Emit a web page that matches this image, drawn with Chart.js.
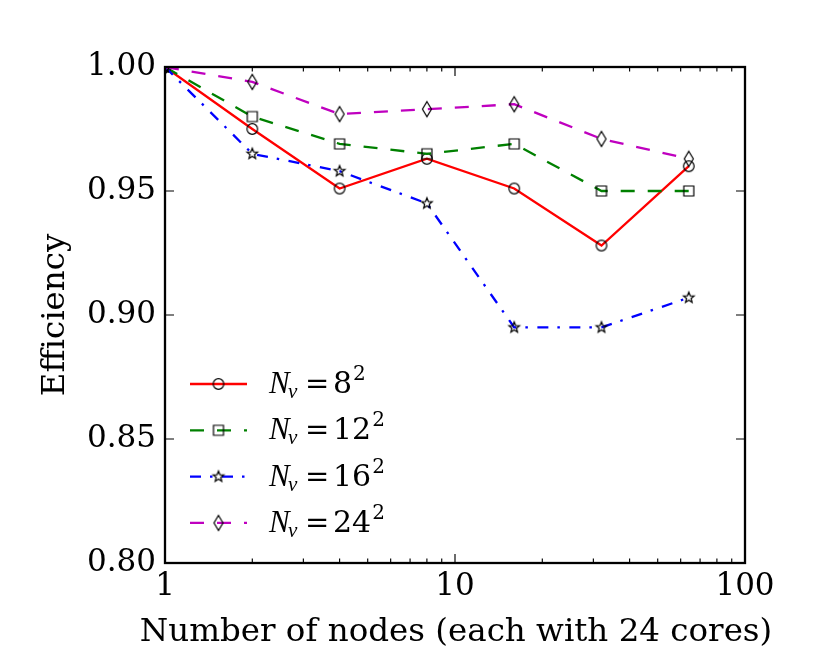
<!DOCTYPE html>
<html>
<head>
<meta charset="utf-8">
<script src="https://cdn.jsdelivr.net/npm/chart.js@4.4.1/dist/chart.umd.min.js"></script>
<style>
    html, body { margin: 0; padding: 0; background: #fff; }
    #wrap { width: 830px; height: 664px; position: relative; }
</style>
</head>
<body>
<div id="wrap"><canvas id="effChart"></canvas></div>
<script>
const nodes = [1, 2, 4, 8, 16, 32, 64];
const effNv8 = [1.000, 0.975, 0.951, 0.963, 0.951, 0.928, 0.960];
const effNv12 = [1.000, 0.980, 0.969, 0.965, 0.969, 0.950, 0.950];
const effNv16 = [1.000, 0.965, 0.958, 0.945, 0.895, 0.895, 0.907];
const effNv24 = [1.000, 0.994, 0.981, 0.983, 0.985, 0.971, 0.963];
const seriesNv = ['8', '12', '16', '24'];
const xMajorTicks = [1, 10, 100];
const xMinorTicks = [2, 3, 4, 5, 6, 7, 8, 9, 20, 30, 40, 50, 60, 70, 80, 90];
const yTicks = [0.80, 0.85, 0.90, 0.95, 1.00];
const xTitle = 'Number of nodes (each with 24 cores)';

const TICK_FONT = 31;
const TITLE_FONT = 32.5;
const X_TITLE_WIDTH = 627;

// hollow black markers like matplotlib's o, s, *, d
function makeMarker(kind) {
    const c = document.createElement('canvas');
    c.width = 22;
    c.height = 22;
    const g = c.getContext('2d');
    g.strokeStyle = '#000';
    g.lineWidth = 1.2;
    g.beginPath();
    if (kind === 'circle') {
        g.arc(11, 11, 5.3, 0, Math.PI * 2);
    } else if (kind === 'square') {
        g.rect(6, 6, 10, 10);
    } else if (kind === 'star') {
        for (let k = 0; k < 10; k++) {
            const r = k % 2 === 0 ? 5.6 : 2.4;
            const a = -Math.PI / 2 + k * Math.PI / 5;
            const px = 11 + r * Math.cos(a);
            const py = 11 + r * Math.sin(a);
            if (k === 0) g.moveTo(px, py); else g.lineTo(px, py);
        }
        g.closePath();
    } else {
        g.moveTo(11, 3.5);
        g.lineTo(15.5, 11);
        g.lineTo(11, 18.5);
        g.lineTo(6.5, 11);
        g.closePath();
    }
    g.stroke();
    return c;
}

function toPoints(values) {
    return nodes.map((n, i) => ({ x: n, y: values[i] }));
}

const series = [
    { values: effNv8, color: '#ff0000', dash: [], marker: makeMarker('circle') },
    { values: effNv12, color: '#008000', dash: [14, 13], marker: makeMarker('square') },
    { values: effNv16, color: '#0000ff', dash: [11, 9, 2.5, 9.5], marker: makeMarker('star') },
    { values: effNv24, color: '#bf00bf', dash: [14, 13], marker: makeMarker('diamond') }
];

const frameAndTicks = {
    id: 'frameAndTicks',
    afterDatasetsDraw(chart) {
        const { ctx, chartArea: a, scales: { x, y } } = chart;
        ctx.save();
        ctx.strokeStyle = '#000';
        ctx.lineWidth = 1.15;
        ctx.beginPath();
        const xTick = (v, len) => {
            const px = x.getPixelForValue(v);
            ctx.moveTo(px, a.bottom);
            ctx.lineTo(px, a.bottom - len);
            ctx.moveTo(px, a.top);
            ctx.lineTo(px, a.top + len);
        };
        xMajorTicks.forEach(v => xTick(v, 9));
        xMinorTicks.forEach(v => xTick(v, 4.6));
        yTicks.forEach(v => {
            const py = y.getPixelForValue(v);
            ctx.moveTo(a.left, py);
            ctx.lineTo(a.left + 9, py);
            ctx.moveTo(a.right, py);
            ctx.lineTo(a.right - 9, py);
        });
        ctx.stroke();
        ctx.lineWidth = 2.3;
        ctx.strokeRect(a.left, a.top, a.right - a.left, a.bottom - a.top);

        // x axis title, spaced out to the width of the original
        ctx.fillStyle = '#000';
        ctx.font = TITLE_FONT + 'px "DejaVu Serif"';
        ctx.textAlign = 'left';
        ctx.textBaseline = 'alphabetic';
        const natural = ctx.measureText(xTitle).width;
        let spacing = 0;
        if ('letterSpacing' in ctx) {
            spacing = Math.max(0, (X_TITLE_WIDTH - natural) / (xTitle.length - 1));
            ctx.letterSpacing = spacing.toFixed(2) + 'px';
        }
        const total = natural + spacing * (xTitle.length - 1);
        ctx.fillText(xTitle, (a.left + a.right) / 2 + 1 - total / 2, 641);
        ctx.restore();
    }
};

// legend without frame: line + marker + N_v = n^2
const mathLegend = {
    id: 'mathLegend',
    afterDraw(chart) {
        const ctx = chart.ctx;
        const x0 = 190, x1 = 247, textX = 269;
        ctx.save();
        series.forEach((s, i) => {
            const ly = 384 + i * 46.3;
            ctx.strokeStyle = s.color;
            ctx.lineWidth = 2.3;
            ctx.setLineDash(s.dash);
            ctx.beginPath();
            ctx.moveTo(x0, ly);
            ctx.lineTo(x1, ly);
            ctx.stroke();
            ctx.setLineDash([]);
            ctx.drawImage(s.marker, (x0 + x1) / 2 - 11, ly - 11);

            const base = ly + 9;
            ctx.fillStyle = '#000';
            ctx.textBaseline = 'alphabetic';
            ctx.textAlign = 'left';
            ctx.font = 'italic 31px "Liberation Serif"';
            ctx.fillText('N', textX, base);
            ctx.font = 'italic 21px "Liberation Serif"';
            ctx.fillText('v', textX + 19, base + 5);
            ctx.font = '29px "DejaVu Serif"';
            ctx.fillText('=', 305, base);
            ctx.font = '30px "DejaVu Serif"';
            ctx.fillText(seriesNv[i], 333, base);
            const w = ctx.measureText(seriesNv[i]).width;
            ctx.font = '20px "DejaVu Serif"';
            ctx.fillText('2', 333 + w + 1, base - 13);
        });
        ctx.restore();
    }
};

new Chart(document.getElementById('effChart'), {
    type: 'line',
    data: {
        datasets: series.map((s, i) => ({
            label: 'N_v = ' + seriesNv[i] + '^2',
            data: toPoints(s.values),
            borderColor: s.color,
            borderWidth: 2.3,
            borderDash: s.dash,
            borderCapStyle: 'butt',
            fill: false,
            tension: 0,
            pointStyle: s.marker,
            pointRadius: 5,
            pointHoverRadius: 5,
            clip: 0,
            order: 3 - i
        }))
    },
    options: {
        responsive: true,
        maintainAspectRatio: false,
        devicePixelRatio: 1,
        animation: false,
        events: [],
        layout: {
            padding: { top: 67, right: 85, left: 0, bottom: 0 }
        },
        plugins: {
            legend: { display: false },
            tooltip: { enabled: false }
        },
        scales: {
            x: {
                type: 'logarithmic',
                min: 1,
                max: 100,
                grid: { display: false, drawTicks: false },
                border: { display: false },
                afterBuildTicks: function(scale) {
                    scale.ticks = xMajorTicks.map(v => ({ value: v }));
                },
                afterFit: function(scale) {
                    scale.height = 101;
                },
                ticks: {
                    autoSkip: false,
                    maxRotation: 0,
                    padding: 5,
                    color: '#000',
                    font: { family: 'DejaVu Serif', size: TICK_FONT },
                    callback: function(value) {
                        return String(value);
                    }
                },
                title: { display: false }
            },
            y: {
                min: 0.80,
                max: 1.00,
                grid: { display: false, drawTicks: false },
                border: { display: false },
                afterBuildTicks: function(scale) {
                    scale.ticks = yTicks.map(v => ({ value: v }));
                },
                afterFit: function(scale) {
                    scale.width = 165;
                },
                ticks: {
                    padding: 9,
                    color: '#000',
                    font: { family: 'DejaVu Serif', size: TICK_FONT },
                    callback: function(value) {
                        return value.toFixed(2);
                    }
                },
                title: {
                    display: true,
                    text: 'Efficiency',
                    color: '#000',
                    font: { family: 'DejaVu Serif', size: TITLE_FONT },
                    padding: { top: 36, bottom: 0 }
                }
            }
        }
    },
    plugins: [frameAndTicks, mathLegend]
});
</script>
</body>
</html>
